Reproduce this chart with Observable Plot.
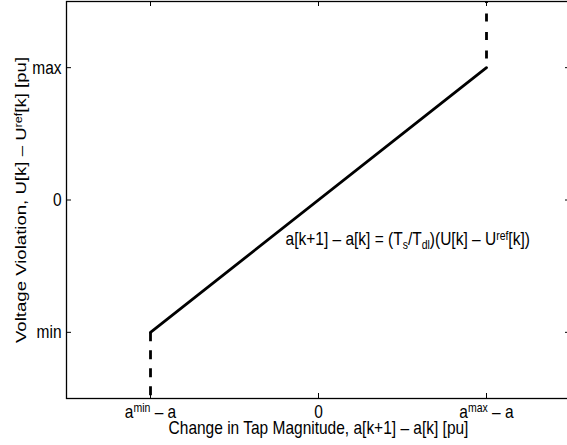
<!DOCTYPE html>
<html><head><meta charset="utf-8">
<script src="https://cdn.jsdelivr.net/npm/d3@7"></script>
<script src="https://cdn.jsdelivr.net/npm/@observablehq/plot@0.6"></script>
<style>html,body{margin:0;padding:0;overflow:hidden;background:#fff} svg{max-width:none!important}</style>
</head><body><div id="chart"></div>
<script>
const xTickValues = [-1, 0, 1];
const xTickLabels = ["a^{min} – a", "0", "a^{max} – a"];
const yTickValues = [-1, 0, 1];
const yTickLabels = ["min", "0", "max"];
const lawX = [-1, 1];
const lawY = [-1, 1];
const lowerLimitX = [-1, -1];
const lowerLimitY = [-1, -1.5];
const upperLimitX = [1, 1];
const upperLimitY = [1.5, 1];
const xLabel = "Change in Tap Magnitude, a[k+1] – a[k] [pu]";
const yLabel = "Voltage Violation, U[k] – U^{ref}[k] [pu]";
const equationText = ["a[k+1] – a[k] = (T_{s}/T_{dl})(U[k] – U^{ref}[k])"];
const equationX = [-0.196];
const equationY = [-0.295];

const W = 572, H = 445, mL = 66, mR = 2, mT = 1, mB = 47;
const pw = W - mL - mR, ph = H - mT - mB;
const pts = (xs, ys) => xs.map((x, i) => ({x, y: ys[i]}));

const plot = Plot.plot({
  width: W, height: H,
  marginLeft: mL, marginRight: mR, marginTop: mT, marginBottom: mB,
  style: {fontFamily: "'Liberation Sans', Arial, sans-serif", fontSize: "15.5px", color: "black", background: "white", maxWidth: "none"},
  x: {domain: [-1.5, 1.5]},
  y: {domain: [-1.5, 1.5]},
  marks: [
    Plot.line(pts(lawX, lawY), {x: "x", y: "y", stroke: "black", strokeWidth: 2.8, strokeLinecap: "round"}),
    Plot.line(pts(lowerLimitX, lowerLimitY), {x: "x", y: "y", stroke: "black", strokeWidth: 2.8, strokeDasharray: "9,9", strokeLinecap: "butt"}),
    Plot.line(pts(upperLimitX, upperLimitY), {x: "x", y: "y", stroke: "black", strokeWidth: 2.8, strokeDasharray: "8,10.5", strokeDashoffset: 6.5, strokeLinecap: "butt"}),
    Plot.frame({stroke: "black", strokeWidth: 1.3}),
    Plot.tickX(xTickValues, {x: d => d, insetTop: ph - 5, stroke: "black"}),
    Plot.tickX(xTickValues, {x: d => d, insetBottom: ph - 5, stroke: "black"}),
    Plot.tickY(yTickValues, {y: d => d, insetRight: pw - 5, stroke: "black"}),
    Plot.tickY(yTickValues, {y: d => d, insetLeft: pw - 5, stroke: "black"}),
    Plot.axisX(xTickValues, {anchor: "bottom", tickSize: 0, tickPadding: 6, label: null,
      tickFormat: d => xTickLabels[xTickValues.indexOf(d)]}),
    Plot.axisY(yTickValues, {anchor: "left", tickSize: 0, tickPadding: 5, label: null,
      tickFormat: d => yTickLabels[yTickValues.indexOf(d)]}),
    Plot.text([xLabel], {frameAnchor: "bottom", dy: 30, lineAnchor: "middle", textAnchor: "middle", text: d => d}),
    Plot.text([yLabel], {frameAnchor: "left", dx: -45, rotate: -90, lineAnchor: "middle", textAnchor: "middle", text: d => d}),
    Plot.text(equationText, {x: equationX, y: equationY, text: d => d, textAnchor: "start", lineAnchor: "middle"})
  ]
});

const NS = "http://www.w3.org/2000/svg";
function richify(root) {
  root.querySelectorAll("text").forEach(t => {
    const s = t.textContent;
    if (!/[\^_]\{/.test(s) || t.querySelector("tspan")) return;
    const parts = s.split(/([\^_]\{[^}]*\})/).filter(p => p);
    t.textContent = "";
    let shift = 0;
    for (const p of parts) {
      const ts = document.createElementNS(NS, "tspan");
      let target = 0, txt = p, small = false;
      if (p.startsWith("^{")) { target = -4.5; txt = p.slice(2, -1); small = true; }
      else if (p.startsWith("_{")) { target = 3; txt = p.slice(2, -1); small = true; }
      if (target - shift !== 0) ts.setAttribute("dy", target - shift);
      shift = target;
      if (small) ts.setAttribute("font-size", "10.5");
      ts.textContent = txt;
      t.appendChild(ts);
    }
  });
}
// the reference figure's lettering is taller than it is wide: stretch glyphs about their anchor
function stretch(root, s) {
  const num = v => v !== null && /^\s*-?[\d.]+(e-?\d+)?\s*$/.test(v);
  root.querySelectorAll("text").forEach(t => {
    const tr = t.getAttribute("transform") || "";
    const x = t.getAttribute("x"), y = t.getAttribute("y");
    let tx = 0, ty = 0;
    if (num(x)) { tx = +x; t.removeAttribute("x"); }
    if (num(y)) { ty = +y; t.removeAttribute("y"); }
    const base = tr + ((tx || ty) ? ` translate(${tx},${ty})` : "");
    const rot = /rotate\(/.test(tr);
    t.setAttribute("transform", base + (rot ? ` scale(${s},1)` : ` scale(1,${s})`));
  });
}
richify(plot);
stretch(plot, 1.2);
document.getElementById("chart").appendChild(plot);
</script>
</body></html>
